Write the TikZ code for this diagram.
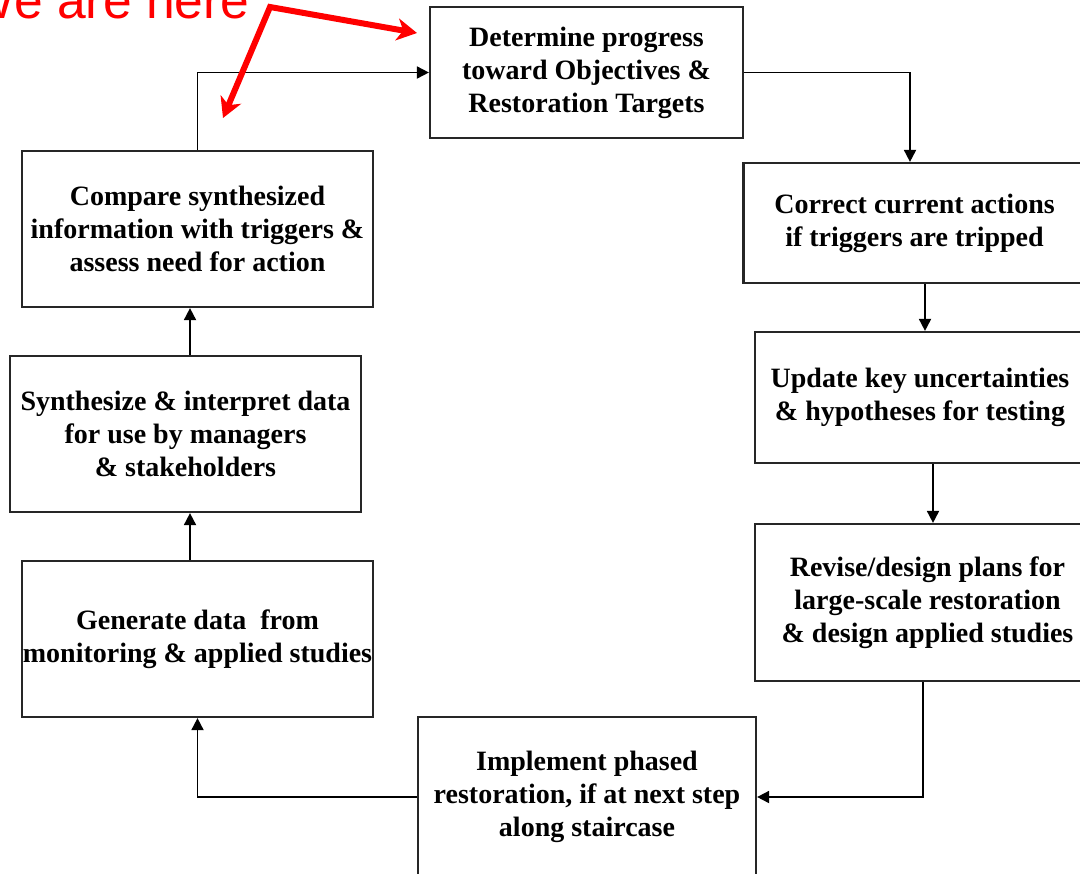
\documentclass[tikz,border=0pt]{standalone}
\usepackage{fontspec}
\setmainfont{Liberation Serif}
\newfontfamily\pointerfont{Liberation Sans}
\usetikzlibrary{arrows.meta}

\tikzset{
  stage/.style={draw=black!85, line width=1.1pt, fill=white, align=center, inner sep=0pt,
    font=\bfseries\fontsize{14}{16.5}\selectfont},
  flow/.style={-{Triangle[length=6pt,width=6pt]}, line width=0.9pt},
  pointer/.style={red, line width=3pt, line join=miter,
    {Stealth[length=10pt,width=11pt,inset=3pt]}-{Stealth[length=10pt,width=11pt,inset=3pt]}},
}

\begin{document}
\begin{tikzpicture}[x=0.5pt, y=-0.5pt]
    \useasboundingbox (0,0) rectangle (1080,873);

    % Top stage
    \node[stage, minimum width=156.5pt, minimum height=65.5pt] (det) at (586.5,72.5)
        {Determine progress\\toward Objectives \&\\Restoration Targets};

    % Right column (boxes run off the page)
    \node[stage, minimum width=171pt, minimum height=60pt] (cor) at (914.5,223)
        {Correct current actions\\if triggers are tripped};
    \node[stage, minimum width=165pt, minimum height=65.5pt] (upd) at (920,397.5)
        {Update key uncertainties\\\& hypotheses for testing};
    \node[stage, minimum width=172.5pt, minimum height=78.5pt] (rev) at (927.5,602.5)
        {Revise/design plans for\\large-scale restoration\\\& design applied studies};

    % Bottom stage
    \node[stage, minimum width=169pt, minimum height=80pt] (imp) at (587,797)
        {Implement phased\\restoration, if at next step\\along staircase};

    % Left column
    \node[stage, minimum width=175.5pt, minimum height=78pt] (gen) at (197.5,639)
        {Generate data\ \ from\\monitoring \& applied studies};
    \node[stage, minimum width=175.5pt, minimum height=78pt] (syn) at (185.5,434)
        {Synthesize \& interpret data\\for use by managers\\\& stakeholders};
    \node[stage, minimum width=175.5pt, minimum height=78pt] (cmp) at (197.5,229)
        {Compare synthesized\\information with triggers \&\\assess need for action};

    % Cycle connectors
    \draw[flow] (det.east) -| (910,0 |- cor.north);
    \draw[flow] (925,0 |- cor.south) -- (925,0 |- upd.north);
    \draw[flow] (933,0 |- upd.south) -- (933,0 |- rev.north);
    \draw[flow] (923,0 |- rev.south) |- (imp.east);
    \draw[flow] (imp.west) -| (gen.south);
    \draw[flow] (190,0 |- gen.north) -- (190,0 |- syn.south);
    \draw[flow] (190,0 |- syn.north) -- (190,0 |- cmp.south);
    \draw[flow] (cmp.north) |- (det.west);

    % "We are here" pointer
    \node[anchor=base west, inner sep=0pt, text=red, font=\pointerfont\fontsize{25.8}{30}\selectfont]
        (here) at (-34,18) {We are here};
    \coordinate (bend) at (270,7);
    \coordinate (tipA) at (417,33);
    \coordinate (tipB) at (223,118);
    \draw[pointer] (tipB) -- (bend) -- (tipA);
\end{tikzpicture}
\end{document}
